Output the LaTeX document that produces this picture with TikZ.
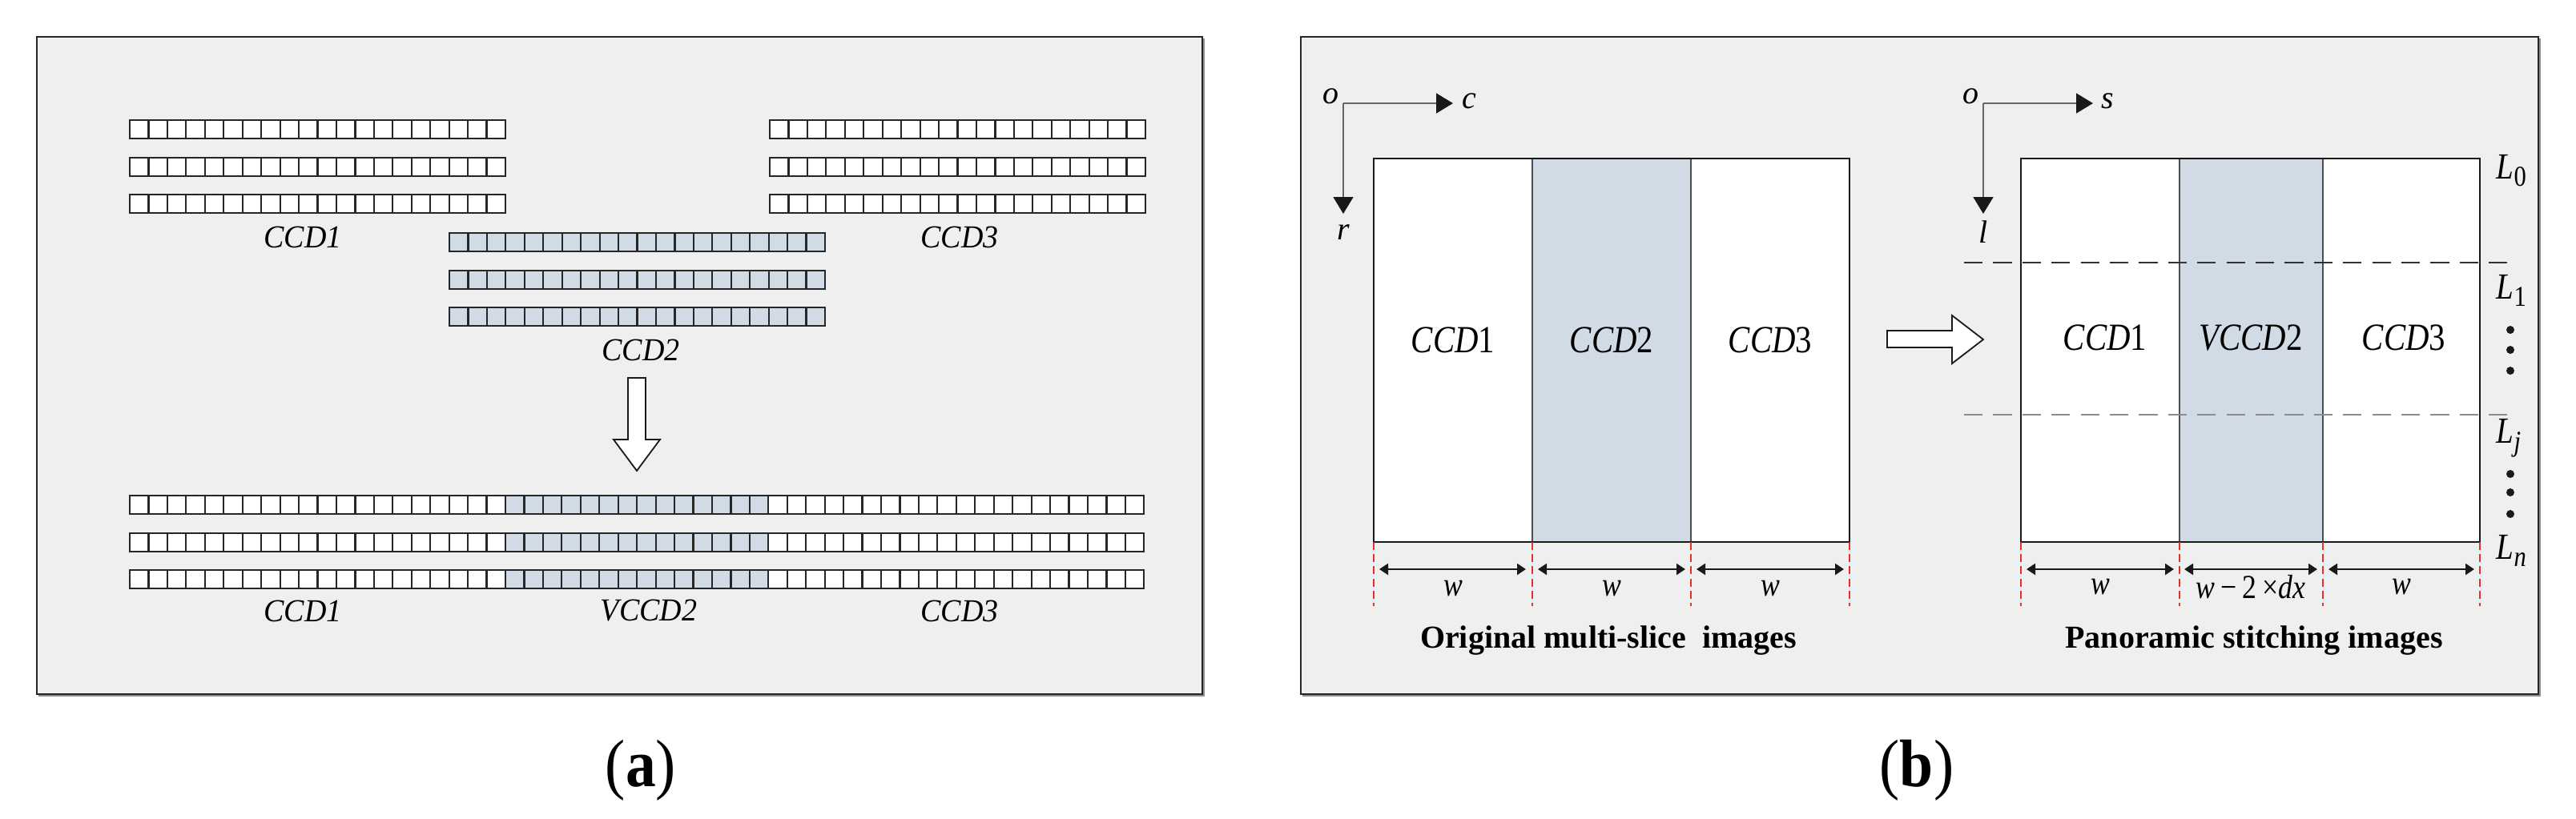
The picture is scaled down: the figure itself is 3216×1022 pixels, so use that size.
\documentclass[tikz,border=0pt]{standalone}
\usepackage{fontspec}
\setmainfont{Liberation Serif}
\newfontfamily\narrowfont[FakeStretch=0.85]{Liberation Serif}
\newfontfamily\slimfont[FakeStretch=0.95]{Liberation Serif}
\newfontfamily\capfont[FakeStretch=0.9]{Liberation Serif}
\usetikzlibrary{arrows.meta}
\definecolor{panelbg}{HTML}{EFEFEF}
\definecolor{cellblue}{HTML}{D0DBE5}
\definecolor{redline}{HTML}{E8302A}
\newcommand\cellrow[5]{%
  \foreach \i in {#3,...,#4}{\draw[cell,fill=#5] ({#1+\i*23.45},#2) rectangle ++(23.45,23);}}
\begin{document}
\begin{tikzpicture}[x=0.25pt,y=-0.25pt,
  panel/.style={fill=panelbg,draw=black!85,line width=0.6pt},
  shadowline/.style={draw=black!45,line width=0.5pt},
  cell/.style={draw=black!85,line width=0.55pt},
  lbla/.style={font=\slimfont\itshape\fontsize{10pt}{12pt}\selectfont,inner sep=0pt},
  lblb/.style={font=\narrowfont\fontsize{12pt}{14pt}\selectfont,inner sep=0pt},
  axlbl/.style={font=\itshape\fontsize{10pt}{12pt}\selectfont,inner sep=0pt},
  wlbl/.style={font=\narrowfont\fontsize{10.5pt}{12pt}\selectfont,inner sep=0pt},
  llbl/.style={font=\narrowfont\fontsize{11.5pt}{13pt}\selectfont,inner sep=0pt,anchor=west},
  title/.style={font=\bfseries\fontsize{10pt}{12pt}\selectfont,inner sep=0pt},
  caption/.style={font=\capfont\fontsize{21pt}{24pt}\selectfont,inner sep=0pt},
  axarrow/.style={draw=black!60,line width=0.4pt,-{Triangle[length=5.25pt,width=6.25pt,color=black!90]}},
  dimarrow/.style={draw=black!90,line width=0.55pt,{Triangle[length=2.75pt,width=3.5pt]}-{Triangle[length=2.75pt,width=3.5pt]}},
  reddash/.style={draw=redline,line width=0.4pt,dash pattern=on 2.5pt off 1.3pt},
  blockarrow/.style={fill=white,draw=black!90,line width=0.45pt},
  imgbox/.style={draw=black!90,line width=0.55pt},
  coldiv/.style={draw=black!70,line width=0.4pt},
  dot/.style={fill=black!90}
]
\useasboundingbox (0,0) rectangle (3216,1022);

% ================= panel (a) =================
\draw[shadowline] (48,869) -- (1503,869) -- (1503,48);
\draw[panel] (46,46) rectangle (1501,867);

% CCD1 rows
\cellrow{162}{150}{0}{19}{white}
\cellrow{162}{197}{0}{19}{white}
\cellrow{162}{243}{0}{19}{white}
% CCD3 rows
\cellrow{961}{150}{0}{19}{white}
\cellrow{961}{197}{0}{19}{white}
\cellrow{961}{243}{0}{19}{white}
% CCD2 rows
\cellrow{561}{291}{0}{19}{cellblue}
\cellrow{561}{338}{0}{19}{cellblue}
\cellrow{561}{384}{0}{19}{cellblue}
% combined rows
\foreach \yy in {619,666,712}{
  \cellrow{162}{\yy}{0}{19}{white}
  \cellrow{162}{\yy}{20}{33}{cellblue}
  \cellrow{162}{\yy}{34}{53}{white}
}

\node[lbla] (a1) at (378,296) {CCD1};
\node[lbla] (a3) at (1198,296) {CCD3};
\node[lbla] (a2) at (800,437) {CCD2};
\node[lbla] (b1) at (378,763) {CCD1};
\node[lbla] (b2) at (810,763) {VCCD2};
\node[lbla] (b3) at (1198,763) {CCD3};

% down block arrow
\draw[blockarrow] (784,472) -- (806,472) -- (806,549) -- (824,549) -- (795,588)
  -- (766,549) -- (784,549) -- cycle;

\node[caption] (capa) at (800,962) {(\textbf{a})};

% ================= panel (b) =================
\draw[shadowline] (1626,869) -- (3171,869) -- (3171,48);
\draw[panel] (1624,46) rectangle (3169,867);

% --- left image ---
\coordinate (o1) at (1677,129);
\coordinate (c1) at (1814,129);
\coordinate (r1) at (1677,267);
\draw[axarrow] (o1) -- (c1);
\draw[axarrow] (o1) -- (r1);
\node[axlbl] (lo1) at (1661,120) {o};
\node[axlbl] (lc1) at (1834,126) {c};
\node[axlbl] (lr1) at (1677,290) {r};

\fill[white] (1715,198) rectangle (1913,677);
\fill[cellblue] (1913,198) rectangle (2111,677);
\fill[white] (2111,198) rectangle (2309,677);
\draw[coldiv] (1913,198) -- (1913,677);
\draw[coldiv] (2111,198) -- (2111,677);
\draw[imgbox] (1715,198) rectangle (2309,677);

\node[lblb] (l1) at (1814,425) {\textit{CCD}1};
\node[lblb] (l2) at (2012,425) {\textit{CCD}2};
\node[lblb] (l3) at (2210,425) {\textit{CCD}3};

\foreach \xx in {1715,1913,2111,2309}{\draw[reddash] (\xx,677) -- (\xx,757);}
\coordinate (d1a) at (1722,711); \coordinate (d1b) at (1905,711);
\coordinate (d2a) at (1920,711); \coordinate (d2b) at (2104,711);
\coordinate (d3a) at (2118,711); \coordinate (d3b) at (2302,711);
\draw[dimarrow] (d1a) -- (d1b);
\draw[dimarrow] (d2a) -- (d2b);
\draw[dimarrow] (d3a) -- (d3b);
\node[wlbl] (w1) at (1814,735) {\textit{w}};
\node[wlbl] (w2) at (2012,735) {\textit{w}};
\node[wlbl] (w3) at (2210,735) {\textit{w}};
\node[title] (t1) at (2008,800) {Original multi-slice\ \ images};

% block arrow between
\draw[blockarrow] (2356,413) -- (2437,413) -- (2437,394) -- (2476,424)
  -- (2437,454) -- (2437,434) -- (2356,434) -- cycle;

% --- right image ---
\coordinate (o2) at (2476,129);
\coordinate (s2) at (2613,129);
\coordinate (l2c) at (2476,267);
\draw[axarrow] (o2) -- (s2);
\draw[axarrow] (o2) -- (l2c);
\node[axlbl] (lo2) at (2460,120) {o};
\node[axlbl] (ls2) at (2631,126) {s};
\node[axlbl] (ll2) at (2476,290) {l};

\fill[white] (2523,198) rectangle (2721,677);
\fill[cellblue] (2721,198) rectangle (2900,677);
\fill[white] (2900,198) rectangle (3096,677);
\draw[coldiv] (2721,198) -- (2721,677);
\draw[coldiv] (2900,198) -- (2900,677);
\draw[imgbox] (2523,198) rectangle (3096,677);

\coordinate (lA) at (2452,328); \coordinate (lB) at (3139,328);
\coordinate (lC) at (2452,518); \coordinate (lD) at (3139,518);
\draw[draw=black!80,line width=0.45pt,dash pattern=on 5.8pt off 3.3pt] (lA) -- (lB);
\draw[draw=black!45,line width=0.55pt,dash pattern=on 5.8pt off 3.3pt] (lC) -- (lD);

\node[lblb] (r1n) at (2628,422) {\textit{CCD}1};
\node[lblb] (r2n) at (2810,422) {\textit{VCCD}2};
\node[lblb] (r3n) at (3001,422) {\textit{CCD}3};

\node[llbl] (L0) at (3116,213) {\textit{L}\raisebox{-0.45ex}{\fontsize{9pt}{9pt}\selectfont 0}};
\node[llbl] (L1) at (3116,363) {\textit{L}\raisebox{-0.45ex}{\fontsize{9pt}{9pt}\selectfont 1}};
\node[llbl] (Lj) at (3116,547) {\textit{L}\raisebox{-0.45ex}{\fontsize{9pt}{9pt}\selectfont\itshape j}};
\node[llbl] (Ln) at (3116,688) {\textit{L}\raisebox{-0.45ex}{\fontsize{9pt}{9pt}\selectfont\itshape n}};
\foreach \yy in {412,437,463,592,615,642}{\fill[dot] (3134,\yy) circle (5);}

\foreach \xx in {2523,2721,2900,3096}{\draw[reddash] (\xx,677) -- (\xx,757);}
\coordinate (e1a) at (2530,711); \coordinate (e1b) at (2714,711);
\coordinate (e2a) at (2727,711); \coordinate (e2b) at (2893,711);
\coordinate (e3a) at (2907,711); \coordinate (e3b) at (3089,711);
\draw[dimarrow] (e1a) -- (e1b);
\draw[dimarrow] (e2a) -- (e2b);
\draw[dimarrow] (e3a) -- (e3b);
\node[wlbl] (v1) at (2622,733) {\textit{w}};
\node[wlbl] (v2) at (2810,733) {\textit{w}\,−\,2\,×\textit{dx}};
\node[wlbl] (v3) at (2998,733) {\textit{w}};
\node[title] (t2) at (2814,800) {Panoramic stitching images};

\node[caption] (capb) at (2393,962) {(\textbf{b})};
\end{tikzpicture}
\end{document}
